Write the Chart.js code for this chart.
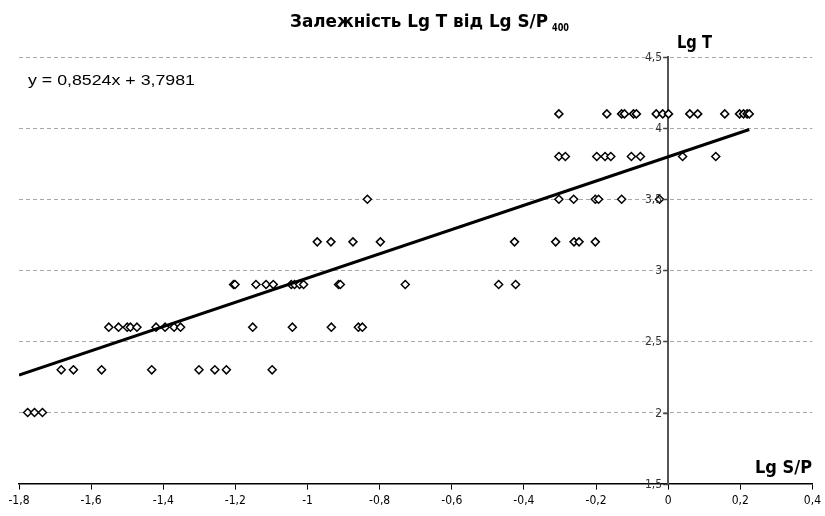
<!DOCTYPE html>
<html lang="uk">
<head>
    <meta charset="UTF-8">
    <title>Залежність Lg T від Lg S/P</title>
    <style>
        html, body { margin: 0; padding: 0; background: #fff; }
        #wrap { width: 825px; height: 516px; position: relative; }
    </style>
    <script src="https://cdn.jsdelivr.net/npm/chart.js@4.4.0/dist/chart.umd.min.js"></script>
</head>
<body>
    <div id="wrap">
        <canvas id="chart" width="825" height="516"></canvas>
    </div>
    <script>
        // точки: Lg S/P (x) і Lg T (y)
        const lgSP = [
            -1.776, -1.757, -1.735,
            -1.683, -1.649, -1.571, -1.432, -1.301, -1.257, -1.225, -1.098,
            -1.551, -1.524, -1.500, -1.491, -1.473, -1.420, -1.395, -1.370, -1.352, -1.152, -1.042, -0.934, -0.859, -0.848,
            -1.205, -1.201, -1.143, -1.115, -1.095, -1.045, -1.036, -1.022, -1.011, -0.914, -0.909, -0.729, -0.470, -0.423,
            -0.973, -0.935, -0.874, -0.798, -0.426, -0.312, -0.261, -0.247, -0.202,
            -0.834, -0.303, -0.262, -0.202, -0.193, -0.129, -0.024,
            -0.303, -0.285, -0.198, -0.175, -0.159, -0.102, -0.077, 0.040, 0.132,
            -0.303, -0.170, -0.129, -0.121, -0.096, -0.088, -0.033, -0.015, 0.001, 0.060, 0.082, 0.157, 0.198, 0.209, 0.219, 0.225
        ];
        const lgT = [
            2.0, 2.0, 2.0,
            2.3, 2.3, 2.3, 2.3, 2.3, 2.3, 2.3, 2.3,
            2.6, 2.6, 2.6, 2.6, 2.6, 2.6, 2.6, 2.6, 2.6, 2.6, 2.6, 2.6, 2.6, 2.6,
            2.9, 2.9, 2.9, 2.9, 2.9, 2.9, 2.9, 2.9, 2.9, 2.9, 2.9, 2.9, 2.9, 2.9,
            3.2, 3.2, 3.2, 3.2, 3.2, 3.2, 3.2, 3.2, 3.2,
            3.5, 3.5, 3.5, 3.5, 3.5, 3.5, 3.5,
            3.8, 3.8, 3.8, 3.8, 3.8, 3.8, 3.8, 3.8, 3.8,
            4.1, 4.1, 4.1, 4.1, 4.1, 4.1, 4.1, 4.1, 4.1, 4.1, 4.1, 4.1, 4.1, 4.1, 4.1, 4.1
        ];
        // лінія тренду y = 0,8524x + 3,7981
        const slope = 0.8524;
        const intercept = 3.7981;
        const trendX = [-1.8, 0.225];

        const xTicks = [-1.8, -1.6, -1.4, -1.2, -1, -0.8, -0.6, -0.4, -0.2, 0, 0.2, 0.4];
        const yTicks = [1.5, 2, 2.5, 3, 3.5, 4, 4.5];

        const narrow = "'Liberation Sans Narrow', 'Arial Narrow', 'DejaVu Sans Condensed', 'Liberation Sans', sans-serif";
        const fmt = v => String(Math.round(v * 10) / 10).replace('.', ',');

        const points = lgSP.map((x, i) => ({ x: x, y: lgT[i] }));
        const trend = trendX.map(x => ({ x: x, y: slope * x + intercept }));

        // текст, стиснутий до потрібної ширини (як Arial Narrow)
        function fitText(c, txt, x, y, width) {
            const w = c.measureText(txt).width;
            c.save();
            c.translate(x, y);
            c.scale(width / w, 1);
            c.fillText(txt, 0, 0);
            c.restore();
        }

        const labels = {
            id: 'labels',
            afterDraw(chart) {
                const c = chart.ctx;
                const sx = chart.scales.x, sy = chart.scales.y;
                c.save();
                c.fillStyle = '#000';
                c.textBaseline = 'alphabetic';
                c.font = 'bold 17px ' + narrow;
                fitText(c, 'Залежність Lg T від Lg S/P', 290, 27, 258);
                c.font = 'bold 11px ' + narrow;
                fitText(c, '400', 552, 31, 17);

                c.font = 'bold 17px ' + narrow;
                fitText(c, 'Lg T', 677, 48, 35);
                fitText(c, 'Lg S/P', 755, 473, 57);

                c.font = "15px 'Liberation Sans', Arial, sans-serif";
                fitText(c, 'y = 0,8524x + 3,7981', 28, 85, 167);

                // підписи й риски осі Lg T ліворуч від осі x = 0
                const ax = sx.getPixelForValue(0);
                c.fillStyle = '#333';
                c.strokeStyle = '#444';
                c.lineWidth = 1.5;
                c.font = '12px ' + narrow;
                c.textAlign = 'right';
                c.textBaseline = 'middle';
                sy.ticks.forEach(t => {
                    const py = Math.round(sy.getPixelForValue(t.value)) + 0.5;
                    c.beginPath();
                    c.moveTo(ax - 5, py);
                    c.lineTo(ax, py);
                    c.stroke();
                    c.fillText(fmt(t.value), ax - 6, py);
                });
                c.restore();
            }
        };

        new Chart(document.getElementById('chart'), {
            type: 'scatter',
            data: {
                datasets: [
                    {
                        type: 'line',
                        data: trend,
                        borderColor: '#000',
                        borderWidth: 3,
                        pointRadius: 0,
                        fill: false,
                        order: 0
                    },
                    {
                        data: points,
                        pointStyle: 'rectRot',
                        pointRadius: 4,
                        backgroundColor: '#fff',
                        borderColor: '#000',
                        pointBorderWidth: 1.5,
                        order: 1
                    }
                ]
            },
            plugins: [labels],
            options: {
                responsive: false,
                animation: false,
                layout: { padding: { left: 19, right: 0, top: 57, bottom: 4 } },
                plugins: {
                    legend: { display: false },
                    tooltip: { enabled: false },
                    title: { display: false }
                },
                scales: {
                    x: {
                        type: 'linear',
                        min: -1.8,
                        max: 0.4,
                        afterBuildTicks: s => { s.ticks = xTicks.map(v => ({ value: v })); },
                        ticks: {
                            callback: fmt,
                            color: '#000',
                            font: { family: narrow, size: 12 },
                            padding: 4,
                            maxRotation: 0,
                            autoSkip: false
                        },
                        grid: { drawOnChartArea: false, drawTicks: true, tickLength: 6, tickColor: '#000' },
                        border: { color: '#000', width: 1.5 }
                    },
                    y: {
                        type: 'linear',
                        position: { x: 0 },
                        min: 1.5,
                        max: 4.5,
                        afterBuildTicks: s => { s.ticks = yTicks.map(v => ({ value: v })); },
                        ticks: { display: false },
                        grid: { color: '#a8a8a8', lineWidth: 1, drawTicks: false },
                        border: { color: '#555', width: 2, dash: [4, 3] }
                    }
                }
            }
        });
    </script>
</body>
</html>
